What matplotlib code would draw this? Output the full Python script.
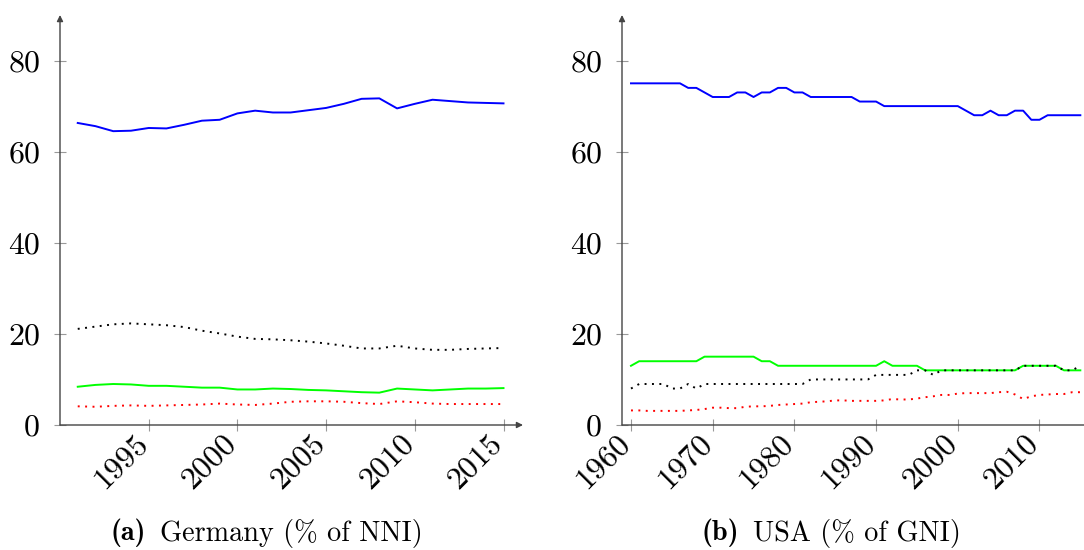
import matplotlib
matplotlib.use("Agg")
import matplotlib.pyplot as plt

plt.rcParams['font.family'] = ['cmr10', 'DejaVu Serif']
plt.rcParams['mathtext.fontset'] = 'cm'
plt.rcParams['axes.formatter.use_mathtext'] = True

# Germany, % of NNI
de_years = list(range(1991, 2016))
de_blue = [66.3, 65.6, 64.5, 64.6, 65.2, 65.1, 65.9, 66.8, 67.0, 68.4, 69.0, 68.6, 68.6,
           69.1, 69.6, 70.5, 71.6, 71.7, 69.5, 70.5, 71.4, 71.1, 70.8, 70.7, 70.6]
de_black = [21.1, 21.6, 22.1, 22.3, 22.1, 21.9, 21.5, 20.7, 20.1, 19.4, 18.9, 18.8, 18.6,
            18.3, 17.9, 17.4, 16.8, 16.8, 17.4, 16.8, 16.5, 16.5, 16.7, 16.8, 16.9]
de_green = [8.4, 8.8, 9.0, 8.9, 8.6, 8.6, 8.4, 8.2, 8.2, 7.8, 7.8, 8.0, 7.9,
            7.7, 7.6, 7.4, 7.2, 7.1, 8.0, 7.8, 7.6, 7.8, 8.0, 8.0, 8.1]
de_red = [4.1, 4.0, 4.2, 4.3, 4.2, 4.3, 4.4, 4.5, 4.7, 4.5, 4.4, 4.7, 5.1,
          5.2, 5.2, 5.1, 4.8, 4.6, 5.2, 5.0, 4.7, 4.6, 4.6, 4.6, 4.6]

# USA, % of GNI
us_years = list(range(1960, 2016))
us_blue = ([75] * 7 + [74, 74, 73] + [72] * 3 + [73, 73, 72, 73, 73, 74, 74, 73, 73]
           + [72] * 6 + [71] * 3 + [70] * 10 + [69, 68, 68, 69, 68, 68, 69, 69, 67, 67]
           + [68] * 5)
us_green = ([13] + [14] * 8 + [15] * 7 + [14] * 2 + [13] * 13 + [14] + [13] * 4
            + [12] * 12 + [13] * 5 + [12] * 3)
us_black = ([8, 9, 9, 9, 9, 8, 8, 9, 8] + [9] * 13 + [10] * 8 + [11] * 5 + [12, 12, 11]
            + [12] * 10 + [13] * 5 + [12, 12, 13])
us_red = [3.2, 3.2, 3.1, 3.1, 3.1, 3.1, 3.1, 3.2, 3.3, 3.5,
          3.8, 3.8, 3.7, 3.7, 4.0, 4.1, 4.1, 4.2, 4.4, 4.5,
          4.6, 4.7, 5.0, 5.1, 5.2, 5.4, 5.4, 5.3, 5.3, 5.3,
          5.3, 5.4, 5.7, 5.6, 5.6, 5.8, 6.1, 6.3, 6.6, 6.6,
          6.9, 7.0, 7.0, 7.0, 7.0, 7.2, 7.3, 6.7, 5.7, 6.3,
          6.6, 6.7, 6.8, 6.8, 7.2, 7.2]

y_ticks = [0, 20, 40, 60, 80]
de_xticks = [1995, 2000, 2005, 2010, 2015]
us_xticks = [1960, 1970, 1980, 1990, 2000, 2010]

fig = plt.figure(figsize=(10.84, 5.5), dpi=100)
W, H = 1084.0, 550.0

dot = (0, (1, 2.8))
axis_col = '#444444'


def setup(ax, xlim, xticks):
    ax.set_xlim(*xlim)
    ax.set_ylim(0, 90)
    for s in ax.spines.values():
        s.set_visible(False)
    for xy in [(1, 0), (0, 1)]:
        ax.annotate('', xy=xy, xytext=(0, 0), xycoords='axes fraction',
                    arrowprops=dict(arrowstyle='-|>', color=axis_col, lw=1.0,
                                    mutation_scale=9, shrinkA=0, shrinkB=0),
                    annotation_clip=False)
    ax.set_yticks(y_ticks)
    ax.set_yticklabels([str(v) for v in y_ticks], fontsize=23)
    ax.set_xticks(xticks)
    ax.set_xticklabels([str(v) for v in xticks], fontsize=23, rotation=45,
                       ha='right', va='baseline', rotation_mode='anchor')
    ax.tick_params(direction='inout', length=8.5, width=0.8, color='#999999')
    ax.tick_params(axis='x', pad=10)
    ax.tick_params(axis='y', pad=10)
    ax.set_facecolor('none')


# left panel: pixel axis 60..523, y 15..425
ax1 = fig.add_axes([60 / W, 1 - 425 / H, 463 / W, 410 / H])
setup(ax1, (1990, 1990 + 463 / 17.74), de_xticks)
ax1.plot(de_years, de_blue, color='#0000ff', lw=1.4)
ax1.plot(de_years, de_black, color='black', lw=1.4, linestyle=dot)
ax1.plot(de_years, de_green, color='#00ff00', lw=1.4)
ax1.plot(de_years, de_red, color='#ff0000', lw=1.4, linestyle=dot)

# right panel: pixel axis starts at 622, runs past the figure edge
ax2 = fig.add_axes([622 / W, 1 - 425 / H, 472 / W, 410 / H])
setup(ax2, (1958.9, 1958.9 + 472 / 8.17), us_xticks)
ax2.plot(us_years, us_blue, color='#0000ff', lw=1.4)
ax2.plot(us_years, us_green, color='#00ff00', lw=1.4)
ax2.plot(us_years, us_black, color='black', lw=1.4, linestyle=dot)
ax2.plot(us_years, us_red, color='#ff0000', lw=1.4, linestyle=dot)


def caption(cx, tag, rest):
    r = fig.canvas.get_renderer()
    t1 = fig.text(0, 1 - 533 / H, tag, family='cmb10', fontsize=20.3, va='center')
    t2 = fig.text(0, 1 - 533 / H, rest, fontsize=20.3, va='center')
    w1 = t1.get_window_extent(r).width
    w2 = t2.get_window_extent(r).width
    gap = 14
    x0 = cx - (w1 + gap + w2) / 2
    t1.set_x(x0 / W)
    t2.set_x((x0 + w1 + gap) / W)


caption(267, '(a)', 'Germany (% of NNI)')
caption(831, '(b)', 'USA (% of GNI)')

fig.savefig('out.png', dpi=100)
